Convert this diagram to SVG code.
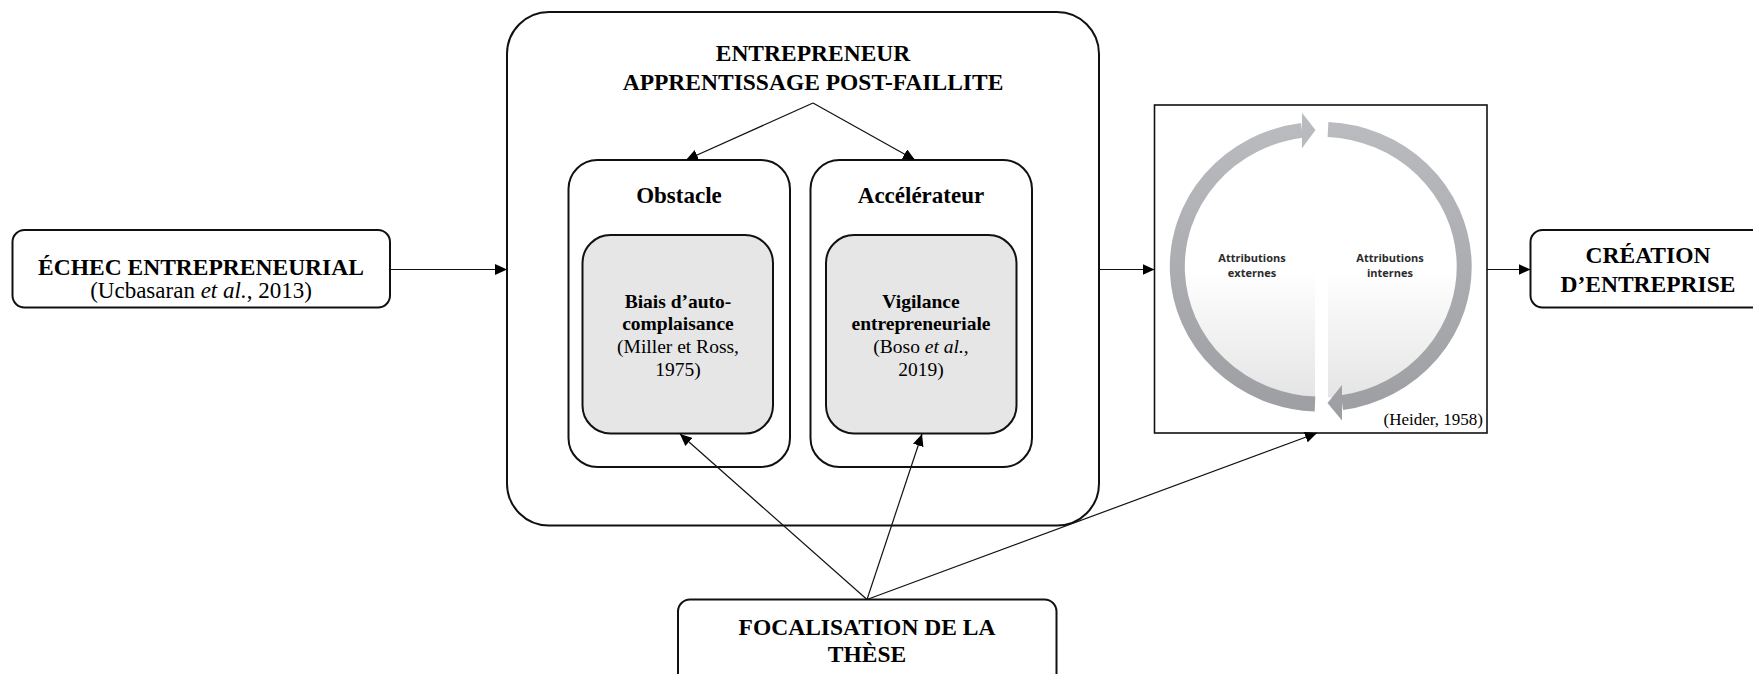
<svg xmlns="http://www.w3.org/2000/svg" width="1753" height="674" viewBox="0 0 1753 674">
<style>
.box{fill:#fff;stroke:#111;stroke-width:2}
.inner{fill:#e6e6e6;stroke:#111;stroke-width:2}
.conn{stroke:#111;stroke-width:1.2;fill:none;marker-end:url(#ah)}
.t{font-family:"Liberation Serif","Times New Roman",serif;fill:#000;text-anchor:middle}
.b{font-weight:bold}
.e{text-anchor:end}
.s{font-family:"Open Sans","Liberation Sans",sans-serif;font-weight:bold;font-size:11px;fill:#2b2b2b;text-anchor:middle}
</style>
<defs>
<marker id="ah" markerUnits="userSpaceOnUse" markerWidth="12" markerHeight="11" refX="12" refY="5.5" orient="auto">
<path d="M0,0 L12,5.5 L0,11 z" fill="#000"/>
</marker>
<linearGradient id="ring" gradientUnits="userSpaceOnUse" x1="0" y1="115" x2="0" y2="420">
<stop offset="0" stop-color="#babcc0"/>
<stop offset="1" stop-color="#9c9ea2"/>
</linearGradient>
<linearGradient id="fillg" gradientUnits="userSpaceOnUse" x1="0" y1="270" x2="0" y2="400">
<stop offset="0" stop-color="#ffffff"/>
<stop offset="1" stop-color="#e4e4e4"/>
</linearGradient>
</defs>
<rect width="1753" height="674" fill="#fff"/>

<g id="echec">
<rect class="box" x="12.5" y="230" width="377.5" height="77.5" rx="12"/>
<text class="t b" x="201" y="275" font-size="23.5">ÉCHEC ENTREPRENEURIAL</text>
<text class="t" x="201" y="297.5" font-size="23">(Ucbasaran <tspan font-style="italic">et al.</tspan>, 2013)</text>
</g>

<g id="entrepreneur">
<rect class="box" x="507" y="12" width="592" height="513.5" rx="42"/>
<text class="t b" x="813" y="61" font-size="23.5">ENTREPRENEUR</text>
<text class="t b" x="813" y="90" font-size="23.5">APPRENTISSAGE POST-FAILLITE</text>
</g>

<g id="obstacle">
<rect class="box" x="568.5" y="160" width="221.5" height="307" rx="29"/>
<text class="t b" x="679" y="203" font-size="23">Obstacle</text>
<rect class="inner" x="582.5" y="235" width="190.5" height="198.5" rx="28"/>
<text class="t b" x="678" y="307.5" font-size="19.5">Biais d’auto-</text>
<text class="t b" x="678" y="329.5" font-size="19.5">complaisance</text>
<text class="t" x="678" y="353" font-size="19.5">(Miller et Ross,</text>
<text class="t" x="678" y="376" font-size="19.5">1975)</text>
</g>

<g id="accelerateur">
<rect class="box" x="810.5" y="160" width="221.5" height="307" rx="29"/>
<text class="t b" x="921" y="203" font-size="23">Accélérateur</text>
<rect class="inner" x="826" y="235" width="190.5" height="198.5" rx="28"/>
<text class="t b" x="921" y="307.5" font-size="19.5">Vigilance</text>
<text class="t b" x="921" y="329.5" font-size="19.5">entrepreneuriale</text>
<text class="t" x="921" y="353" font-size="19.5">(Boso <tspan font-style="italic">et al.</tspan>,</text>
<text class="t" x="921" y="376" font-size="19.5">2019)</text>
</g>

<g id="attributions">
<rect x="1154.5" y="105" width="332.5" height="328" fill="#fff" stroke="#111" stroke-width="1.6"/>
<ellipse cx="1321" cy="266.7" rx="137" ry="131" fill="url(#fillg)"/>
<rect x="1315" y="120" width="13" height="295" fill="#fff"/>
<path d="M1315,404.1 A143.5,137.5 0 0 1 1302,130.4" fill="none" stroke="url(#ring)" stroke-width="15"/>
<path d="M1302,112.7 L1315.5,130 L1302,148.3 z" fill="url(#ring)"/>
<path d="M1328,129.4 A143.5,137.5 0 0 1 1342,402.7" fill="none" stroke="url(#ring)" stroke-width="15"/>
<path d="M1342,385 L1327.5,403 L1342,420.5 z" fill="url(#ring)"/>
<text class="s" x="1252" y="262">Attributions</text>
<text class="s" x="1252" y="277">externes</text>
<text class="s" x="1390" y="262">Attributions</text>
<text class="s" x="1390" y="277">internes</text>
<text class="t e" x="1483" y="425" font-size="17">(Heider, 1958)</text>
</g>

<g id="creation">
<rect class="box" x="1530.5" y="230" width="240" height="77.5" rx="12"/>
<text class="t b" x="1648" y="263" font-size="23.5">CRÉATION</text>
<text class="t b" x="1648" y="291.5" font-size="23.5">D’ENTREPRISE</text>
</g>

<g id="focalisation">
<rect class="box" x="678" y="599.5" width="378.5" height="90" rx="12"/>
<text class="t b" x="867" y="635" font-size="23.5">FOCALISATION DE LA</text>
<text class="t b" x="867" y="662" font-size="23.5">THÈSE</text>
</g>

<g id="connectors">
<line class="conn" x1="390" y1="269.5" x2="507" y2="269.5"/>
<line class="conn" x1="1099" y1="269.5" x2="1154.5" y2="269.5"/>
<line class="conn" x1="1487" y1="269.5" x2="1530.5" y2="269.5"/>
<line class="conn" x1="813" y1="103" x2="686" y2="160"/>
<line class="conn" x1="813" y1="103" x2="915" y2="160"/>
<line class="conn" x1="867" y1="599.5" x2="680" y2="434"/>
<line class="conn" x1="867" y1="599.5" x2="922" y2="434"/>
<line class="conn" x1="867" y1="599.5" x2="1317" y2="433"/>
</g>
</svg>
